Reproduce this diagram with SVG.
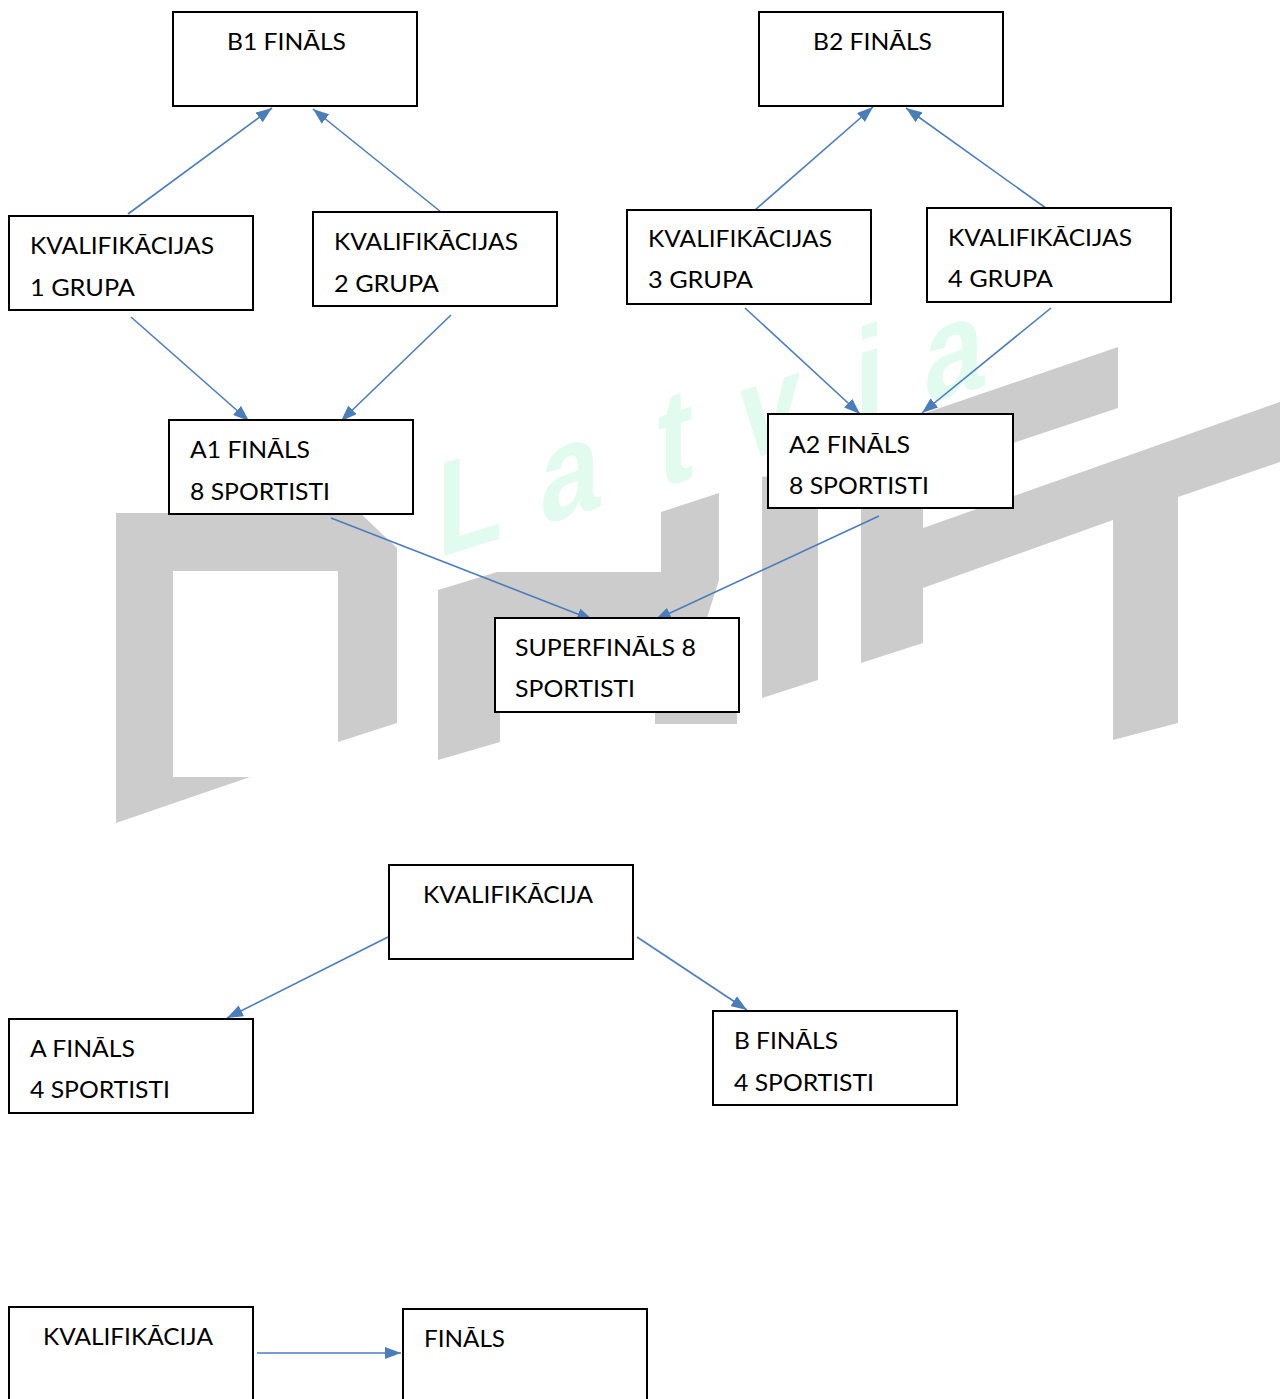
<svg xmlns="http://www.w3.org/2000/svg" width="1280" height="1399" viewBox="0 0 1280 1399">
<style>
.box{fill:#ffffff;stroke:#000000;stroke-width:2}
.t{font-family:Lato,"Open Sans","Liberation Sans",sans-serif;font-size:24px;fill:#000000}
.wm{fill:#cccccc}
.wt{font-family:"Liberation Sans",Arial,sans-serif;font-weight:bold;font-size:135px;fill:#e1fbef}
.c{stroke:#4a7ebb;stroke-width:1.6;fill:none;marker-end:url(#ah)}
</style>
<defs>
<marker id="ah" markerUnits="userSpaceOnUse" markerWidth="16" markerHeight="12" refX="16" refY="6" orient="auto">
<path d="M0,0 L16,6 L0,12 Z" fill="#4a7ebb"/>
</marker>
</defs>
<g id="watermark">
<text class="wt" transform="skewY(-17.5) scale(0.8 1)"><tspan x="546" y="696">L</tspan><tspan x="675" y="696">a</tspan><tspan x="822" y="696">t</tspan><tspan x="925" y="696">v</tspan><tspan x="1068" y="696">i</tspan><tspan x="1155" y="696">a</tspan></text>
<path class="wm" d="M116,513 L360,513 L397,548 L397,723 L338,742 L338,571 L173,571 L173,777 L250,777 L116,823 Z"/>
<path class="wm" d="M438,590 L497,572 L661,572 L661,512 L719,493 L719,580 L700,640 L500,640 L500,742 L438,760 Z"/>
<rect class="wm" x="655" y="712" width="82" height="12"/>
<path class="wm" d="M762,477 L818,470 L818,680 L762,698 Z"/>
<path class="wm" d="M861,435 L1118,347 L1118,408 L923,473 L923,528 L1280,402 L1280,462 L1178,497 L1178,723 L1113,740 L1113,520 L923,588 L923,643 L861,663 Z"/>
</g>
<g id="connectors">
<line class="c" x1="128" y1="214" x2="272" y2="108"/>
<line class="c" x1="441" y1="212" x2="313" y2="109"/>
<line class="c" x1="747" y1="217" x2="873" y2="107"/>
<line class="c" x1="1050" y1="211" x2="906" y2="108"/>
<line class="c" x1="131" y1="317" x2="249" y2="421"/>
<line class="c" x1="451" y1="315" x2="341" y2="421"/>
<line class="c" x1="745" y1="308" x2="860" y2="414"/>
<line class="c" x1="1051" y1="308" x2="922" y2="413"/>
<line class="c" x1="331" y1="518" x2="593" y2="620"/>
<line class="c" x1="879" y1="516" x2="655" y2="620"/>
<line class="c" x1="388" y1="937" x2="227" y2="1018"/>
<line class="c" x1="637" y1="937" x2="747" y2="1010"/>
<line class="c" x1="257" y1="1353" x2="401" y2="1353"/>
</g>
<g id="b1">
<rect class="box" x="173" y="12" width="244" height="94"/>
<text class="t" x="227" y="50" textLength="119" lengthAdjust="spacingAndGlyphs">B1 FINĀLS</text>
</g>
<g id="b2">
<rect class="box" x="759" y="12" width="244" height="94"/>
<text class="t" x="813" y="50" textLength="119" lengthAdjust="spacingAndGlyphs">B2 FINĀLS</text>
</g>
<g id="kv1">
<rect class="box" x="9" y="216" width="244" height="94"/>
<text class="t" x="30" y="254" textLength="184" lengthAdjust="spacingAndGlyphs">KVALIFIKĀCIJAS</text>
<text class="t" x="30" y="296" textLength="105" lengthAdjust="spacingAndGlyphs">1 GRUPA</text>
</g>
<g id="kv2">
<rect class="box" x="313" y="212" width="244" height="94"/>
<text class="t" x="334" y="250" textLength="184" lengthAdjust="spacingAndGlyphs">KVALIFIKĀCIJAS</text>
<text class="t" x="334" y="292" textLength="105" lengthAdjust="spacingAndGlyphs">2 GRUPA</text>
</g>
<g id="kv3">
<rect class="box" x="627" y="210" width="244" height="94"/>
<text class="t" x="648" y="247" textLength="184" lengthAdjust="spacingAndGlyphs">KVALIFIKĀCIJAS</text>
<text class="t" x="648" y="288" textLength="105" lengthAdjust="spacingAndGlyphs">3 GRUPA</text>
</g>
<g id="kv4">
<rect class="box" x="927" y="208" width="244" height="94"/>
<text class="t" x="948" y="246" textLength="184" lengthAdjust="spacingAndGlyphs">KVALIFIKĀCIJAS</text>
<text class="t" x="948" y="287" textLength="105" lengthAdjust="spacingAndGlyphs">4 GRUPA</text>
</g>
<g id="a1">
<rect class="box" x="169" y="420" width="244" height="94"/>
<text class="t" x="190" y="458" textLength="120" lengthAdjust="spacingAndGlyphs">A1 FINĀLS</text>
<text class="t" x="190" y="500" textLength="140" lengthAdjust="spacingAndGlyphs">8 SPORTISTI</text>
</g>
<g id="a2">
<rect class="box" x="768" y="414" width="245" height="94"/>
<text class="t" x="789" y="453" textLength="121" lengthAdjust="spacingAndGlyphs">A2 FINĀLS</text>
<text class="t" x="789" y="494" textLength="140" lengthAdjust="spacingAndGlyphs">8 SPORTISTI</text>
</g>
<g id="superfinals">
<rect class="box" x="495" y="618" width="244" height="94"/>
<text class="t" x="515" y="656" textLength="181" lengthAdjust="spacingAndGlyphs">SUPERFINĀLS 8</text>
<text class="t" x="515" y="697" textLength="120" lengthAdjust="spacingAndGlyphs">SPORTISTI</text>
</g>
<g id="kvalifikacija1">
<rect class="box" x="389" y="865" width="244" height="94"/>
<text class="t" x="423" y="903" textLength="170" lengthAdjust="spacingAndGlyphs">KVALIFIKĀCIJA</text>
</g>
<g id="afinals">
<rect class="box" x="9" y="1019" width="244" height="94"/>
<text class="t" x="30" y="1057" textLength="105" lengthAdjust="spacingAndGlyphs">A FINĀLS</text>
<text class="t" x="30" y="1098" textLength="140" lengthAdjust="spacingAndGlyphs">4 SPORTISTI</text>
</g>
<g id="bfinals">
<rect class="box" x="713" y="1011" width="244" height="94"/>
<text class="t" x="734" y="1049" textLength="104" lengthAdjust="spacingAndGlyphs">B FINĀLS</text>
<text class="t" x="734" y="1091" textLength="140" lengthAdjust="spacingAndGlyphs">4 SPORTISTI</text>
</g>
<g id="kvalifikacija2">
<rect class="box" x="9" y="1307" width="244" height="120"/>
<text class="t" x="43" y="1345" textLength="170" lengthAdjust="spacingAndGlyphs">KVALIFIKĀCIJA</text>
</g>
<g id="finals">
<rect class="box" x="403" y="1309" width="244" height="120"/>
<text class="t" x="424" y="1347" textLength="81" lengthAdjust="spacingAndGlyphs">FINĀLS</text>
</g>
</svg>
